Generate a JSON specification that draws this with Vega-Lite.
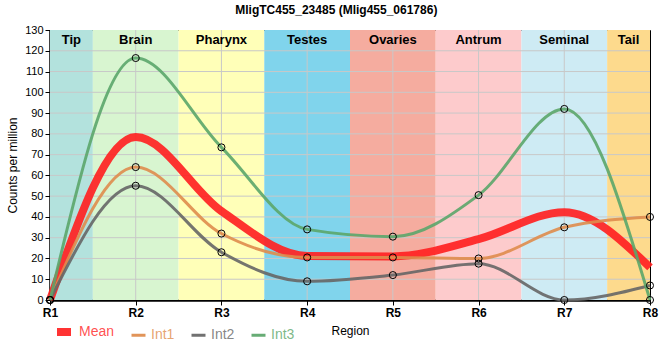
{
  "$schema": "https://vega.github.io/schema/vega-lite/v6.json",
  "width": 600,
  "height": 270,
  "autosize": {"type": "none"},
  "padding": {"left": 50, "top": 30, "right": 10, "bottom": 60},
  "background": "white",
  "title": {"text": "MligTC455_23485 (Mlig455_061786)", "fontSize": 12, "fontWeight": "bold", "font": "Liberation Sans", "anchor": "middle", "frame": "bounds", "offset": 7, "color": "black"},
  "config": {
    "view": {"stroke": "black", "strokeWidth": 1},
    "font": "Liberation Sans",
    "axisY": {"labelOverlap": false, "tickCount": 13, "grid": false, "title": "Counts per million", "domainColor": "black", "domainWidth": 2.5, "tickColor": "black", "tickSize": 5, "labelColor": "black", "labelFontSize": 11, "titleFontSize": 12, "titleFontWeight": "normal", "titleColor": "black", "titlePadding": 5},
    "axisX": {"tickCount": 8, "grid": false, "domainColor": "black", "domainWidth": 2.5, "tickColor": "black", "tickSize": 5, "labelColor": "black", "labelFontSize": 12, "labelFontWeight": "bold", "labelFlush": false, "titleFontSize": 12, "titleFontWeight": "normal", "titleColor": "black", "titlePadding": 7},
    "legend": {"labelOpacity": 0.8}
  },
  "datasets": {
    "bands": [
      {"name": "Tip", "start": 1, "end": 1.5, "fill": "#b3e2dd"},
      {"name": "Brain", "start": 1.5, "end": 2.5, "fill": "#d8f5d0"},
      {"name": "Pharynx", "start": 2.5, "end": 3.5, "fill": "#ffffb8"},
      {"name": "Testes", "start": 3.5, "end": 4.5, "fill": "#80d4ec"},
      {"name": "Ovaries", "start": 4.5, "end": 5.5, "fill": "#f5ac9f"},
      {"name": "Antrum", "start": 5.5, "end": 6.5, "fill": "#fdcbcc"},
      {"name": "Seminal", "start": 6.5, "end": 7.5, "fill": "#ceebf4"},
      {"name": "Tail", "start": 7.5, "end": 8, "fill": "#fdda8d"}
    ],
    "ygrid": [{"v": 10}, {"v": 20}, {"v": 30}, {"v": 40}, {"v": 50}, {"v": 60}, {"v": 70}, {"v": 80}, {"v": 90}, {"v": 100}, {"v": 110}, {"v": 120}],
    "xgrid": [{"v": 2}, {"v": 3}, {"v": 4}, {"v": 5}, {"v": 6}, {"v": 7}],
    "series": [
      {"series": "Mean", "r": 1, "cpm": 0},
      {"series": "Mean", "r": 2, "cpm": 78.5},
      {"series": "Mean", "r": 3, "cpm": 42.8},
      {"series": "Mean", "r": 4, "cpm": 21.2},
      {"series": "Mean", "r": 5, "cpm": 21},
      {"series": "Mean", "r": 6, "cpm": 29.3},
      {"series": "Mean", "r": 7, "cpm": 42.3},
      {"series": "Mean", "r": 8, "cpm": 15.7},
      {"series": "Int1", "r": 1, "cpm": 0},
      {"series": "Int1", "r": 2, "cpm": 64},
      {"series": "Int1", "r": 3, "cpm": 32},
      {"series": "Int1", "r": 4, "cpm": 20.5},
      {"series": "Int1", "r": 5, "cpm": 20.5},
      {"series": "Int1", "r": 6, "cpm": 20},
      {"series": "Int1", "r": 7, "cpm": 35},
      {"series": "Int1", "r": 8, "cpm": 40},
      {"series": "Int2", "r": 1, "cpm": 0},
      {"series": "Int2", "r": 2, "cpm": 55},
      {"series": "Int2", "r": 3, "cpm": 23},
      {"series": "Int2", "r": 4, "cpm": 9},
      {"series": "Int2", "r": 5, "cpm": 12},
      {"series": "Int2", "r": 6, "cpm": 17.5},
      {"series": "Int2", "r": 7, "cpm": 0},
      {"series": "Int2", "r": 8, "cpm": 7},
      {"series": "Int3", "r": 1, "cpm": 0},
      {"series": "Int3", "r": 2, "cpm": 116.5},
      {"series": "Int3", "r": 3, "cpm": 73.5},
      {"series": "Int3", "r": 4, "cpm": 34},
      {"series": "Int3", "r": 5, "cpm": 30.5},
      {"series": "Int3", "r": 6, "cpm": 50.5},
      {"series": "Int3", "r": 7, "cpm": 92},
      {"series": "Int3", "r": 8, "cpm": 0}
    ]
  },
  "layer": [
    {
      "data": {"name": "bands"},
      "mark": {"type": "rect"},
      "encoding": {
        "x": {"field": "start", "type": "quantitative", "scale": {"domain": [1, 8], "nice": false, "zero": false},
          "axis": {"labelExpr": "'R' + datum.value", "title": "Region"}},
        "x2": {"field": "end"},
        "fill": {"field": "fill", "type": "nominal", "scale": null, "legend": null}
      }
    },
    {
      "data": {"name": "ygrid"},
      "mark": {"type": "rule", "color": "#c8c8c8", "strokeWidth": 1},
      "encoding": {"y": {"field": "v", "type": "quantitative", "scale": {"domain": [0, 130], "nice": false}, "axis": {"title": "Counts per million"}}}
    },
    {
      "data": {"name": "xgrid"},
      "mark": {"type": "rule", "color": "#c8c8c8", "strokeWidth": 1},
      "encoding": {"x": {"field": "v", "type": "quantitative"}}
    },
    {
      "data": {"name": "series"},
      "mark": {"type": "line", "interpolate": "monotone"},
      "encoding": {
        "x": {"field": "r", "type": "quantitative"},
        "y": {"field": "cpm", "type": "quantitative"},
        "color": {"field": "series", "type": "nominal", "scale": {"domain": ["Mean", "Int1", "Int2", "Int3"], "range": ["#ff2222", "#df8c4c", "#666666", "#5ba66a"]},
          "legend": {"orient": "none", "legendX": 3, "legendY": 291, "direction": "horizontal", "title": null, "labelFontSize": 14, "symbolSize": 196, "symbolType": "stroke", "columnPadding": 10, "labelOffset": 4,
            "labelColor": {"expr": "scale('color', datum.value)"}}},
        "strokeWidth": {"field": "series", "type": "nominal", "scale": {"type": "ordinal", "domain": ["Mean", "Int1", "Int2", "Int3"], "range": [8, 3, 3, 3]},
          "legend": {"orient": "none", "legendX": 3, "legendY": 291, "direction": "horizontal", "title": null, "labelFontSize": 14, "symbolSize": 196, "symbolType": "stroke", "columnPadding": 10, "labelOffset": 4,
            "labelColor": {"expr": "scale('color', datum.value)"}}},
        "opacity": {"condition": {"test": "datum.series == 'Mean'", "value": 0.92}, "value": 0.9}
      }
    },
    {
      "data": {"name": "series"},
      "transform": [{"filter": "datum.series != 'Mean'"}],
      "mark": {"type": "point", "shape": "circle", "filled": false, "stroke": "black", "strokeWidth": 1, "size": 50, "opacity": 1, "clip": false},
      "encoding": {
        "x": {"field": "r", "type": "quantitative"},
        "y": {"field": "cpm", "type": "quantitative"}
      }
    },
    {
      "data": {"name": "bands"},
      "transform": [{"calculate": "(datum.start + datum.end) / 2", "as": "mid"}],
      "mark": {"type": "text", "fontSize": 13, "fontWeight": "bold", "color": "black", "baseline": "middle"},
      "encoding": {
        "x": {"field": "mid", "type": "quantitative"},
        "y": {"datum": 125},
        "text": {"field": "name"}
      }
    }
  ]
}
